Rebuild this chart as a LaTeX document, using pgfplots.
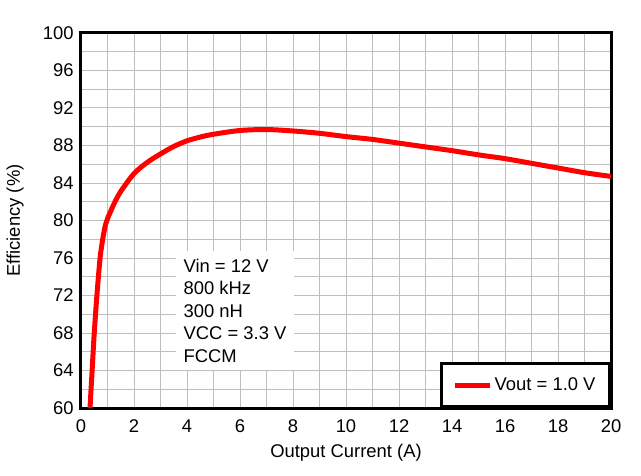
\documentclass[border=0pt]{standalone}
\usepackage{pgfplots}
\pgfplotsset{compat=1.18}
\usepackage{fontspec}
\setmainfont{Liberation Sans}
\definecolor{gridgray}{RGB}{190,190,190}
\begin{document}
\begin{tikzpicture}
\begin{axis}[
  scale only axis,
  width=397.5pt, height=281.25pt,
  xmin=0, xmax=20, ymin=60, ymax=100,
  xtick={0,2,...,20}, ytick={60,64,...,100},
  minor x tick num=1, minor y tick num=1,
  grid=both,
  major grid style={gridgray, line width=0.75pt},
  minor grid style={gridgray, line width=0.75pt},
  major tick length=0pt, minor tick length=0pt,
  axis line style={line width=2.25pt},
  font=\fontsize{13.8pt}{16.5pt}\selectfont,
  tick label style={font=\fontsize{13.8pt}{16.5pt}\selectfont},
  /pgf/number format/assume math mode=true,
  xticklabel shift=5pt, yticklabel shift=2pt,
  xlabel={Output Current (A)},
  ylabel={Efficiency (\%)},
  xlabel style={at={(axis description cs:0.5,-0.12)}, anchor=center},
  ylabel style={at={(axis description cs:-0.1245,0.5)}, anchor=center},
  legend style={at={(1,0)}, anchor=south east, draw=black, line width=2.25pt,
    fill=white, inner xsep=8.5pt, inner ysep=8.5pt,
    font=\fontsize{13.8pt}{16.5pt}\selectfont},
  legend cell align=left,
  legend image code/.code={\draw[#1, line width=3.75pt] (0pt,0pt) -- (26pt,0pt);},
  clip=true,
]
\addplot[red, line width=3.75pt, smooth, tension=0.5] coordinates {
(0.34,60) (0.42,64) (0.5,68) (0.6,72) (0.72,76) (0.82,78) (0.92,79.5)
(1,80.2) (1.25,81.8) (1.5,83.1) (2,85.0) (2.5,86.2) (3,87.1)
(3.5,87.9) (4,88.5) (4.5,88.9) (5,89.2) (6,89.6) (7,89.7) (8,89.55) (9,89.3)
(10,88.95) (11,88.65) (12,88.25) (13,87.85) (14,87.45) (15,87.0)
(16,86.6) (17,86.1) (18,85.6) (19,85.1) (20,84.7)
};
\addlegendentry{Vout = 1.0 V}
\node[anchor=north west, fill=white, align=left, inner xsep=6pt, inner ysep=6pt,
  font=\fontsize{13.8pt}{16.9pt}\selectfont]
  at (rel axis cs:0.178,0.42) {Vin = 12 V\\800 kHz\\300 nH\\VCC = 3.3 V\\FCCM};
\end{axis}
\path (current axis.south west) ++(-60.75pt,-50.25pt) coordinate (bl);
\path (current axis.north east) ++(22.5pt,24.75pt) coordinate (tr);
\path (bl) rectangle (tr);
\end{tikzpicture}
\end{document}
